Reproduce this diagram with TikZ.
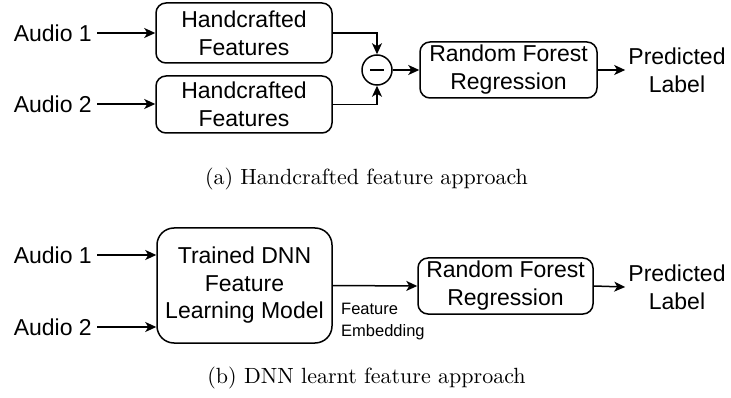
\documentclass[tikz,border=0pt]{standalone}
\usepackage{fontspec}
\newfontfamily\arialf{Liberation Sans}
\newfontfamily\capfont{lmroman10-regular}[Extension=.otf]
\usetikzlibrary{arrows.meta}
\tikzset{
  arr/.style={-{Stealth[length=11pt,width=10pt,inset=3pt]}, line width=1.5pt},
  lbl/.style={font=\arialf\fontsize{23}{28}\selectfont, inner sep=0pt, align=center},
  boxa/.style={draw, line width=1.5pt, rounded corners=10pt, font=\arialf\fontsize{23}{28}\selectfont, align=center, inner sep=0pt},
  boxb/.style={boxa, rounded corners=17pt, font=\arialf\fontsize{23}{27.5}\selectfont},
  small/.style={font=\arialf\fontsize{16.5}{22}\selectfont, inner sep=0pt, align=left},
  capt/.style={font=\capfont\fontsize{22}{26}\selectfont, inner sep=0pt},
}
\begin{document}
\begin{tikzpicture}[x=1pt,y=-1pt]
\useasboundingbox (0,0) rectangle (731,398);
% (a)
\node[lbl, anchor=east, inner xsep=5pt] (a1) at (97,33) {Audio 1};
\node[lbl, anchor=east, inner xsep=5pt] (a2) at (97,104) {Audio 2};
\node[boxa, minimum width=176pt, minimum height=60pt] (h1) at (244,33) {Handcrafted\\Features};
\node[boxa, minimum width=176pt, minimum height=57pt] (h2) at (244,104.5) {Handcrafted\\Features};
\node[draw, circle, line width=1.5pt, minimum size=30pt, inner sep=0pt] (m) at (377,70) {};
\draw[line width=1.5pt] ([xshift=-7pt]m.center) -- ([xshift=7pt]m.center);
\node[boxa, minimum width=177pt, minimum height=56pt] (rf1) at (508.5,70) {Random Forest\\Regression};
\node[lbl, inner xsep=3pt] (p1) at (677,70) {Predicted\\Label};
\draw[arr] (a1.east) -- (a1.east -| h1.west);
\draw[arr] (a2.east) -- (a2.east -| h2.west);
\draw[arr] (h1.east) -| (m.north);
\draw[arr] (h2.east) -| (m.south);
\draw[arr] (m.east) -- (rf1.west);
\draw[arr] (rf1.east) -- (p1.west);
\node[capt] (c1) at (366.5,179) {(a) Handcrafted feature approach};
% (b)
\node[lbl, anchor=east, inner xsep=5pt] (b1) at (97,255) {Audio 1};
\node[lbl, anchor=east, inner xsep=5pt] (b2) at (97,327) {Audio 2};
\node[boxb, minimum width=175pt, minimum height=115pt] (dnn) at (244.5,285.5) {Trained DNN\\Feature\\Learning Model};
\node[boxa, minimum width=175pt, minimum height=56pt] (rf2) at (505.5,286) {Random Forest\\Regression};
\node[lbl, inner xsep=3pt] (p2) at (677,287) {Predicted\\Label};
\draw[arr] (b1.east) -- (b1.east -| dnn.west);
\draw[arr] (b2.east) -- (b2.east -| dnn.west);
\draw[arr] (dnn.east) -- (rf2.west);
\draw[arr] (rf2.east) -- (p2.west);
\node[small, anchor=west] (emb) at (341,322) {Feature\\Embedding};
\node[capt] (c2) at (366.5,378) {(b) DNN learnt feature approach};
\end{tikzpicture}
\end{document}
